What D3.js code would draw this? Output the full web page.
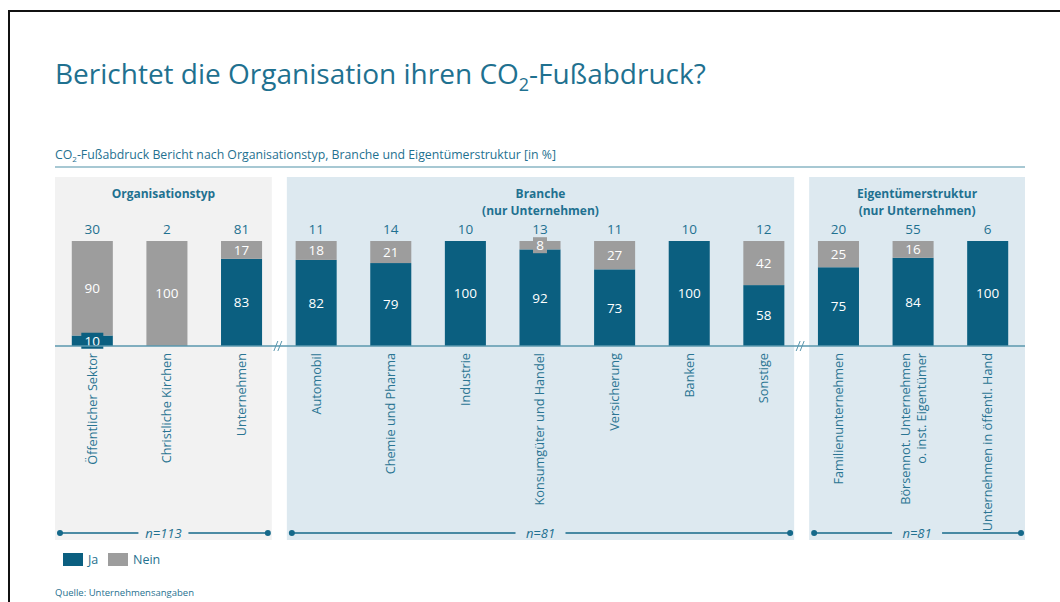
<!DOCTYPE html>
<html>
<head>
<meta charset="utf-8">
<script src="https://cdn.jsdelivr.net/npm/d3@7"></script>
<style>
  body { margin: 0; background: #fff; }
  text { font-family: "Open Sans", sans-serif; }
</style>
</head>
<body>
<div id="chart"></div>
<script>
// data
const categories = ["Öffentlicher Sektor", "Christliche Kirchen", "Unternehmen",
  "Automobil", "Chemie und Pharma", "Industrie", "Konsumgüter und Handel", "Versicherung", "Banken", "Sonstige",
  "Familienunternehmen", "Börsennot. Unternehmen|o. inst. Eigentümer", "Unternehmen in öffentl. Hand"];
const jaValues   = [10, 0, 83, 82, 79, 100, 92, 73, 100, 58, 75, 84, 100];
const neinValues = [90, 100, 17, 18, 21, 0, 8, 27, 0, 42, 25, 16, 0];
const nCounts    = [30, 2, 81, 11, 14, 10, 13, 11, 10, 12, 20, 55, 6];
const groupTitles = [["Organisationstyp"], ["Branche", "(nur Unternehmen)"], ["Eigentümerstruktur", "(nur Unternehmen)"]];
const groupRanges = [[0, 2], [3, 9], [10, 12]];
const groupN = ["n=113", "n=81", "n=81"];
const seriesKeys = ["Ja", "Nein"];

const W = 1060, H = 602;
const colors = {Ja: "#0b5f80", Nein: "#9d9d9d"};
const teal = "#1f7190";

const svg = d3.select("#chart").append("svg")
    .attr("width", W).attr("height", H);

// frame
svg.append("path")
    .attr("d", "M9,602 V11 H1060")
    .attr("fill", "none").attr("stroke", "#111").attr("stroke-width", 2);

// title
const title = svg.append("text")
    .attr("x", 55).attr("y", 84)
    .attr("fill", teal).style("font-size", "28px");
title.append("tspan").text("Berichtet die Organisation ihren CO");
title.append("tspan").attr("dy", 7).style("font-size", "18px").text("2");
title.append("tspan").attr("dy", -7).text("-Fußabdruck?");

// subtitle
const sub = svg.append("text")
    .attr("x", 55).attr("y", 159)
    .attr("fill", teal).style("font-size", "12.3px");
sub.append("tspan").text("CO");
sub.append("tspan").attr("dy", 3).style("font-size", "8px").text("2");
sub.append("tspan").attr("dy", -3).text("-Fußabdruck Bericht nach Organisationstyp, Branche und Eigentümerstruktur [in %]");

svg.append("line")
    .attr("x1", 55).attr("x2", 1025).attr("y1", 167).attr("y2", 167)
    .attr("stroke", "#a7c8d3").attr("stroke-width", 2);

// scales
const x = d3.scaleBand()
    .domain(categories)
    .range([55, 1025])
    .paddingInner(0.45)
    .paddingOuter(0.225);

const y = d3.scaleLinear().domain([0, 100]).range([346, 241]);

const rows = categories.map((c, i) => ({cat: c, Ja: jaValues[i], Nein: neinValues[i]}));
const stacked = d3.stack().keys(seriesKeys)(rows);

// boundaries between groups
const breakAt = i => (x(categories[i - 1]) + x.bandwidth() + x(categories[i])) / 2;
const panelEdges = groupRanges.map(([a, b]) => [
  a === 0 ? 55 : breakAt(a) + 8,
  b === categories.length - 1 ? 1025 : breakAt(b + 1) - 7
]);

// panels
const panelFill = ["#f2f2f2", "#dde9f0", "#dde9f0"];
svg.append("g").selectAll("rect")
  .data(panelEdges)
  .join("rect")
    .attr("x", d => d[0]).attr("width", d => d[1] - d[0])
    .attr("y", 177).attr("height", 363)
    .attr("fill", (d, i) => panelFill[i]);

// group headers
groupTitles.forEach((lines, gi) => {
  const cx = (panelEdges[gi][0] + panelEdges[gi][1]) / 2;
  const t = svg.append("text")
      .attr("text-anchor", "middle")
      .attr("fill", teal)
      .style("font-size", "12px").style("font-weight", "bold");
  lines.forEach((l, li) => {
    t.append("tspan").attr("x", cx).attr("y", 198 + li * 17).text(l);
  });
});

// n per category
svg.append("g").selectAll("text")
  .data(nCounts)
  .join("text")
    .attr("x", (d, i) => x(categories[i]) + x.bandwidth() / 2)
    .attr("y", 234)
    .attr("text-anchor", "middle")
    .attr("fill", teal)
    .style("font-size", "13.5px")
    .text(d => d);

// bars
const layers = svg.append("g").selectAll("g")
  .data(stacked)
  .join("g")
    .attr("fill", d => colors[d.key]);

layers.selectAll("rect")
  .data(d => d)
  .join("rect")
    .attr("x", d => x(d.data.cat))
    .attr("width", x.bandwidth())
    .attr("y", d => y(d[1]))
    .attr("height", d => y(d[0]) - y(d[1]));

// value labels (with a small tab for thin segments)
stacked.forEach(layer => {
  layer.forEach(d => {
    const v = d[1] - d[0];
    if (v <= 0) return;
    const cx = x(d.data.cat) + x.bandwidth() / 2;
    const cy = (y(d[0]) + y(d[1])) / 2;
    if (y(d[0]) - y(d[1]) < 15) {
      const w = String(v).length * 8 + 6;
      svg.append("rect")
        .attr("x", cx - w / 2).attr("width", w)
        .attr("y", cy - 8).attr("height", 16)
        .attr("fill", colors[layer.key]);
    }
    svg.append("text")
      .attr("x", cx).attr("y", cy)
      .attr("dy", "0.36em")
      .attr("text-anchor", "middle")
      .attr("fill", "#fff")
      .style("font-size", "13.5px")
      .text(v);
  });
});

// baseline
svg.append("line")
    .attr("x1", 55).attr("x2", 1025).attr("y1", y(0)).attr("y2", y(0))
    .attr("stroke", "#5a97ae").attr("stroke-width", 1.5);

// break marks
[3, 10].forEach(i => {
  const bx = breakAt(i);
  [-2, 2].forEach(o => {
    svg.append("line")
      .attr("x1", bx + o - 3).attr("y1", y(0) + 5)
      .attr("x2", bx + o + 1).attr("y2", y(0) - 5)
      .attr("stroke", "#5a97ae").attr("stroke-width", 1);
  });
});

// category labels (rotated)
categories.forEach(c => {
  const lines = c.split("|");
  const cx = x(c) + x.bandwidth() / 2;
  const t = svg.append("text")
      .attr("transform", `translate(${cx},${y(0) + 7}) rotate(-90)`)
      .attr("text-anchor", "end")
      .attr("fill", "#2a7593")
      .style("font-size", "12.7px");
  lines.forEach((l, li) => {
    t.append("tspan")
      .attr("x", 0)
      .attr("y", (li - (lines.length - 1) / 2) * 16)
      .attr("dy", "0.35em")
      .text(l);
  });
});

// n lines under each panel
panelEdges.forEach((e, gi) => {
  const x0 = e[0] + 5, x1 = e[1] - 4, ly = 533;
  const cx = (e[0] + e[1]) / 2;
  const g = svg.append("g");
  g.append("line").attr("x1", x0).attr("x2", cx - 25).attr("y1", ly).attr("y2", ly)
    .attr("stroke", "#15698a").attr("stroke-width", 1.5);
  g.append("line").attr("x1", cx + 25).attr("x2", x1).attr("y1", ly).attr("y2", ly)
    .attr("stroke", "#15698a").attr("stroke-width", 1.5);
  [x0, x1].forEach(px => g.append("circle").attr("cx", px).attr("cy", ly).attr("r", 3).attr("fill", "#15698a"));
  g.append("text").attr("x", cx).attr("y", ly).attr("dy", "0.35em")
    .attr("text-anchor", "middle").attr("fill", teal)
    .style("font-size", "13px").style("font-style", "italic")
    .text(groupN[gi]);
});

// legend
const legend = svg.append("g").attr("transform", "translate(63,553)");
seriesKeys.forEach((k, i) => {
  const lx = i * 45;
  legend.append("rect").attr("x", lx).attr("y", 0).attr("width", 20).attr("height", 13)
    .attr("fill", colors[k]);
  legend.append("text").attr("x", lx + 25).attr("y", 7).attr("dy", "0.35em")
    .attr("fill", teal).style("font-size", "12.5px").text(k);
});

// source
svg.append("text")
    .attr("x", 55).attr("y", 596)
    .attr("fill", teal).style("font-size", "9.5px")
    .text("Quelle: Unternehmensangaben");
</script>
</body>
</html>
